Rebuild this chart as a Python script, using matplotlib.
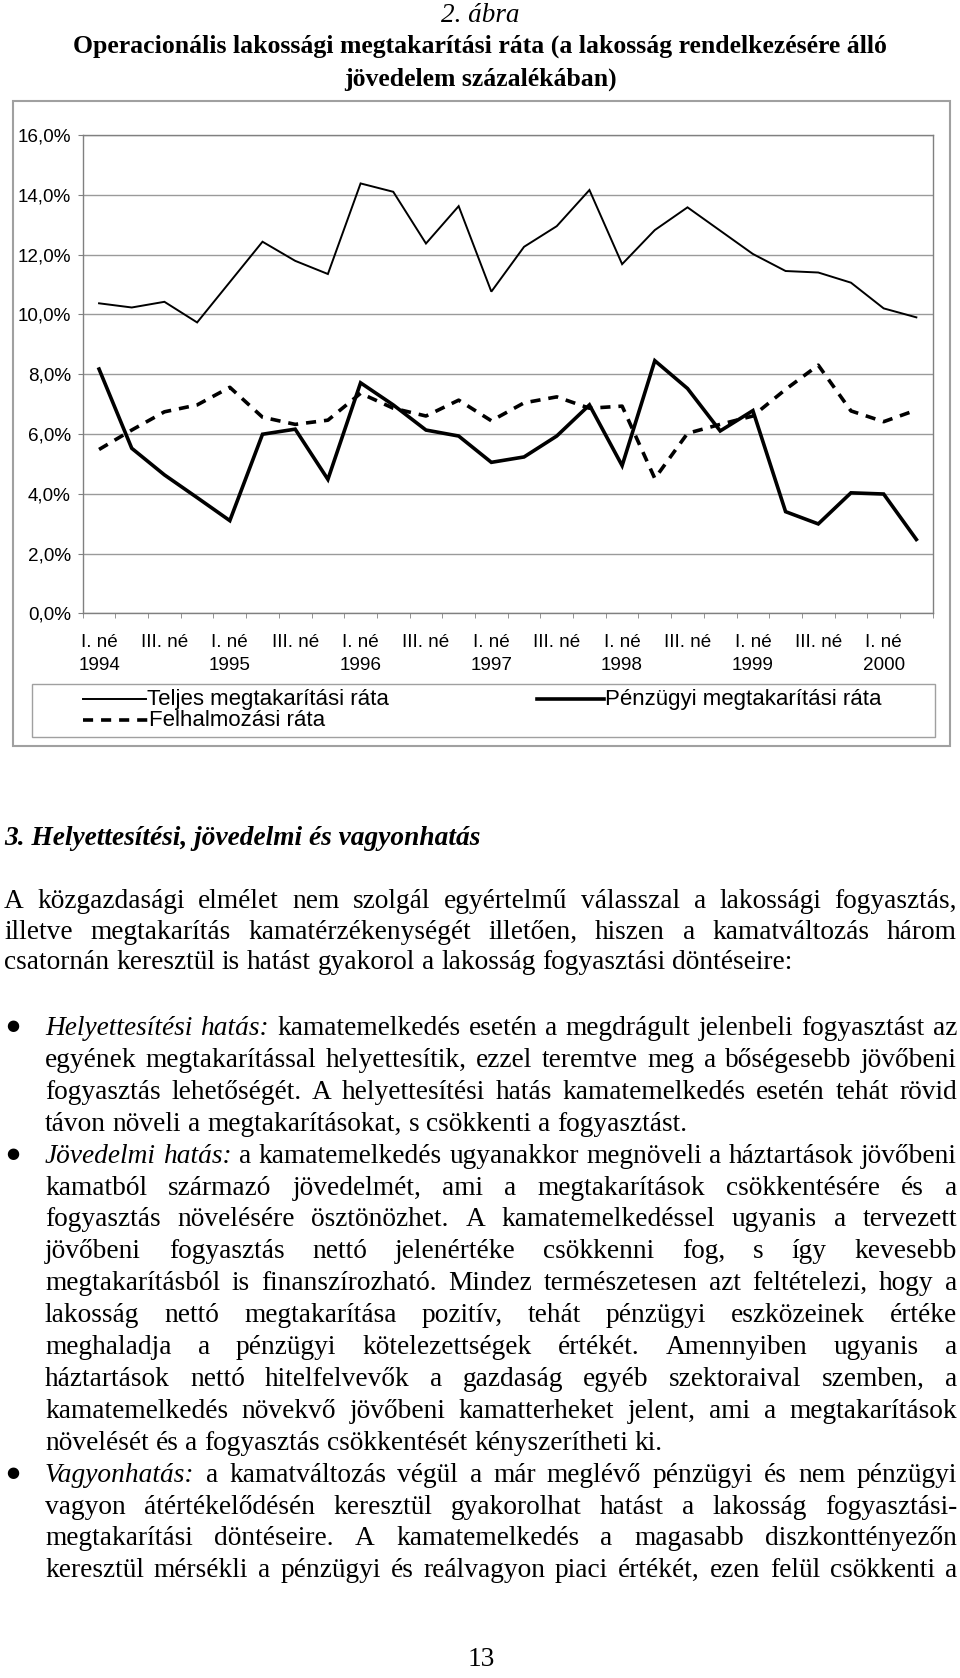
import matplotlib
matplotlib.use('Agg')
import matplotlib.pyplot as plt
from matplotlib.lines import Line2D
from matplotlib.patches import Rectangle
from matplotlib.ticker import FuncFormatter
import numpy as np

W, H = 960, 1678

# negyedeves adatok, 1994 I. né - 2000 II. né
teljes = [10.37, 10.23, 10.42, 9.73, 11.08, 12.43, 11.79, 11.35, 14.38, 14.10,
          12.37, 13.62, 10.76, 12.26, 12.95, 14.16, 11.68, 12.82, 13.58, 12.80,
          12.02, 11.45, 11.40, 11.06, 10.20, 9.90]
penzugyi = [8.17, 5.52, 4.63, 3.87, 3.10, 5.99, 6.16, 4.48, 7.71, 6.97,
            6.13, 5.93, 5.05, 5.23, 5.93, 6.97, 4.94, 8.45, 7.52, 6.10,
            6.78, 3.40, 2.99, 4.03, 3.99, 2.47]
felhalm = [5.48, 6.13, 6.74, 6.97, 7.56, 6.56, 6.32, 6.46, 7.36, 6.86,
           6.60, 7.13, 6.44, 7.04, 7.24, 6.86, 6.93, 4.51, 6.02, 6.32,
           6.60, 7.49, 8.30, 6.77, 6.41, 6.80]
tick_labels = ['I. né\n1994', 'III. né', 'I. né\n1995', 'III. né', 'I. né\n1996',
               'III. né', 'I. né\n1997', 'III. né', 'I. né\n1998', 'III. né',
               'I. né\n1999', 'III. né', 'I. né\n2000']
names = ['Teljes megtakarítási ráta', 'Pénzügyi megtakarítási ráta',
         'Felhalmozási ráta']

title0 = '2. ábra'
title1 = 'Operacionális lakossági megtakarítási ráta (a lakosság rendelkezésére álló'
title2 = 'jövedelem százalékában)'
heading = '3. Helyettesítési, jövedelmi és vagyonhatás'

# (szöveg, sorkizárt?) ; '*' = dőlt szó
para = [
    ('A közgazdasági elmélet nem szolgál egyértelmű válasszal a lakossági fogyasztás,', True),
    ('illetve megtakarítás kamatérzékenységét illetően, hiszen a kamatváltozás három', True),
    ('csatornán keresztül is hatást gyakorol a lakosság fogyasztási döntéseire:', False),
]
bullet1 = [
    ('*Helyettesítési *hatás: kamatemelkedés esetén a megdrágult jelenbeli fogyasztást az', True),
    ('egyének megtakarítással helyettesítik, ezzel teremtve meg a bőségesebb jövőbeni', True),
    ('fogyasztás lehetőségét. A helyettesítési hatás kamatemelkedés esetén tehát rövid', True),
    ('távon növeli a megtakarításokat, s csökkenti a fogyasztást.', False),
]
bullet2 = [
    ('*Jövedelmi *hatás: a kamatemelkedés ugyanakkor megnöveli a háztartások jövőbeni', True),
    ('kamatból származó jövedelmét, ami a megtakarítások csökkentésére és a', True),
    ('fogyasztás növelésére ösztönözhet. A kamatemelkedéssel ugyanis a tervezett', True),
    ('jövőbeni fogyasztás nettó jelenértéke csökkenni fog, s így kevesebb', True),
    ('megtakarításból is finanszírozható. Mindez természetesen azt feltételezi, hogy a', True),
    ('lakosság nettó megtakarítása pozitív, tehát pénzügyi eszközeinek értéke', True),
    ('meghaladja a pénzügyi kötelezettségek értékét. Amennyiben ugyanis a', True),
    ('háztartások nettó hitelfelvevők a gazdaság egyéb szektoraival szemben, a', True),
    ('kamatemelkedés növekvő jövőbeni kamatterheket jelent, ami a megtakarítások', True),
    ('növelését és a fogyasztás csökkentését kényszerítheti ki.', False),
]
bullet3 = [
    ('*Vagyonhatás: a kamatváltozás végül a már meglévő pénzügyi és nem pénzügyi', True),
    ('vagyon átértékelődésén keresztül gyakorolhat hatást a lakosság fogyasztási-', True),
    ('megtakarítási döntéseire. A kamatemelkedés a magasabb diszkonttényezőn', True),
    ('keresztül mérsékli a pénzügyi és reálvagyon piaci értékét, ezen felül csökkenti a', True),
]
page_no = '13'


def fx(x):
    return x / W


def fy(y):
    return 1 - y / H


fig = plt.figure(figsize=(W / 100, H / 100), dpi=100)
r = fig.canvas.get_renderer()

SANS = 'Liberation Sans'
SERIF = 'Liberation Serif'
fs_chart = 13.6
fs_leg = 16

# ---- chart ----
ax = fig.add_axes([fx(82.7), fy(613.3), 850 / W, 478.3 / H])
st1 = dict(color='black', lw=1.4, solid_joinstyle='miter')
st2 = dict(color='black', lw=2.6, solid_joinstyle='miter')
st3 = dict(color='black', lw=2.6, dashes=(2.8, 2.2), dash_capstyle='butt')
x = np.arange(len(teljes))
ax.plot(x, teljes, **st1)
ax.plot(x, penzugyi, **st2)
ax.plot(x, felhalm, **st3)

ax.set_xlim(-0.5, len(teljes) - 0.5)
ax.set_ylim(0, 16)
ax.set_yticks(np.arange(0, 17, 2))
ax.yaxis.set_major_formatter(FuncFormatter(lambda v, p: ('%.1f' % v).replace('.', ',') + '%'))
ax.grid(axis='y', color='#9a9a9a', lw=1)
ax.set_axisbelow(True)
ax.set_xticks(np.arange(0, len(teljes), 2))
ax.set_xticklabels(tick_labels)
ax.set_xticks(np.arange(-0.5, len(teljes), 1), minor=True)
ax.tick_params(axis='x', which='major', length=0, pad=14.8)
ax.tick_params(axis='x', which='minor', length=3.6, color='#808080', direction='out')
ax.tick_params(axis='y', length=3.6, color='#808080', pad=5)
for lbl in ax.get_xticklabels() + ax.get_yticklabels():
    lbl.set_fontfamily(SANS)
    lbl.set_fontsize(fs_chart)
for lbl in ax.get_xticklabels():
    lbl.set_linespacing(1.5)
for s in ax.spines.values():
    s.set_color('#808080')
    s.set_linewidth(1)

# outer frame
fig.add_artist(Rectangle((fx(12.7), fy(746)), (950 - 12.7) / W, (746 - 100.6) / H,
                         transform=fig.transFigure, fill=False, ec='#a0a0a0', lw=1.5))
# legend
fig.add_artist(Rectangle((fx(32), fy(737)), (935 - 32) / W, (737 - 684) / H,
                         transform=fig.transFigure, fill=False, ec='#a0a0a0', lw=1))
leg = [(83, 146, 699, st1, names[0]), (537, 604, 699, st2, names[1]),
       (83, 148, 720, st3, names[2])]
for x0, x1, yy, st, nm in leg:
    fig.add_artist(Line2D([fx(x0), fx(x1)], [fy(yy), fy(yy)], transform=fig.transFigure, **st))
    fig.text(fx(x1 + 1), fy(yy), nm, family=SANS, size=fs_leg, ha='left', va='center')

# ---- titles ----
fig.text(0.5, fy(16), title0, family=SERIF, style='italic', size=19.5, ha='center', va='center')
fig.text(0.5, fy(46), title1, family=SERIF, weight='bold', size=18.5, ha='center', va='center')
fig.text(0.5, fy(79), title2, family=SERIF, weight='bold', size=18.5, ha='center', va='center')


# ---- body text ----
def tw(s, **kw):
    t = fig.text(0, 0, s, **kw)
    w = t.get_window_extent(renderer=r).width
    t.remove()
    return w


fs = 18
w0 = tw(para[2][0], family=SERIF, size=fs)
fs = fs * 785 / w0


def draw_line(line, justify, x0, x1, yb):
    toks = []
    for wd in line.split(' '):
        kw = dict(family=SERIF, size=fs)
        if wd.startswith('*'):
            wd = wd[1:]
            kw['style'] = 'italic'
        toks.append((wd, kw, tw(wd, **kw)))
    total = sum(t[2] for t in toks)
    if justify and len(toks) > 1:
        gap = (x1 - x0 - total) / (len(toks) - 1)
    else:
        gap = tw('a a', family=SERIF, size=fs) - tw('aa', family=SERIF, size=fs)
    xx = x0
    for wd, kw, w in toks:
        fig.text(fx(xx), fy(yb), wd, ha='left', va='baseline', **kw)
        xx += w + gap


fig.text(fx(4), fy(838 + 7), heading, family=SERIF, weight='bold', style='italic',
         size=fs, ha='left', va='baseline')

y = 901
for ln, j in para:
    draw_line(ln, j, 4, 957, y + 7)
    y += 30.5
y = 1028
for blk in (bullet1, bullet2, bullet3):
    fig.text(fx(13), fy(y - 2), '●', family='DejaVu Sans', size=fs * 0.55,
             ha='center', va='center')
    for ln, j in blk:
        draw_line(ln, j, 45, 957, y + 7)
        y += 31.9

fig.text(fx(481), fy(1659 + 7), page_no, family=SERIF, size=fs, ha='center', va='baseline')

fig.savefig('out.png', dpi=100)
